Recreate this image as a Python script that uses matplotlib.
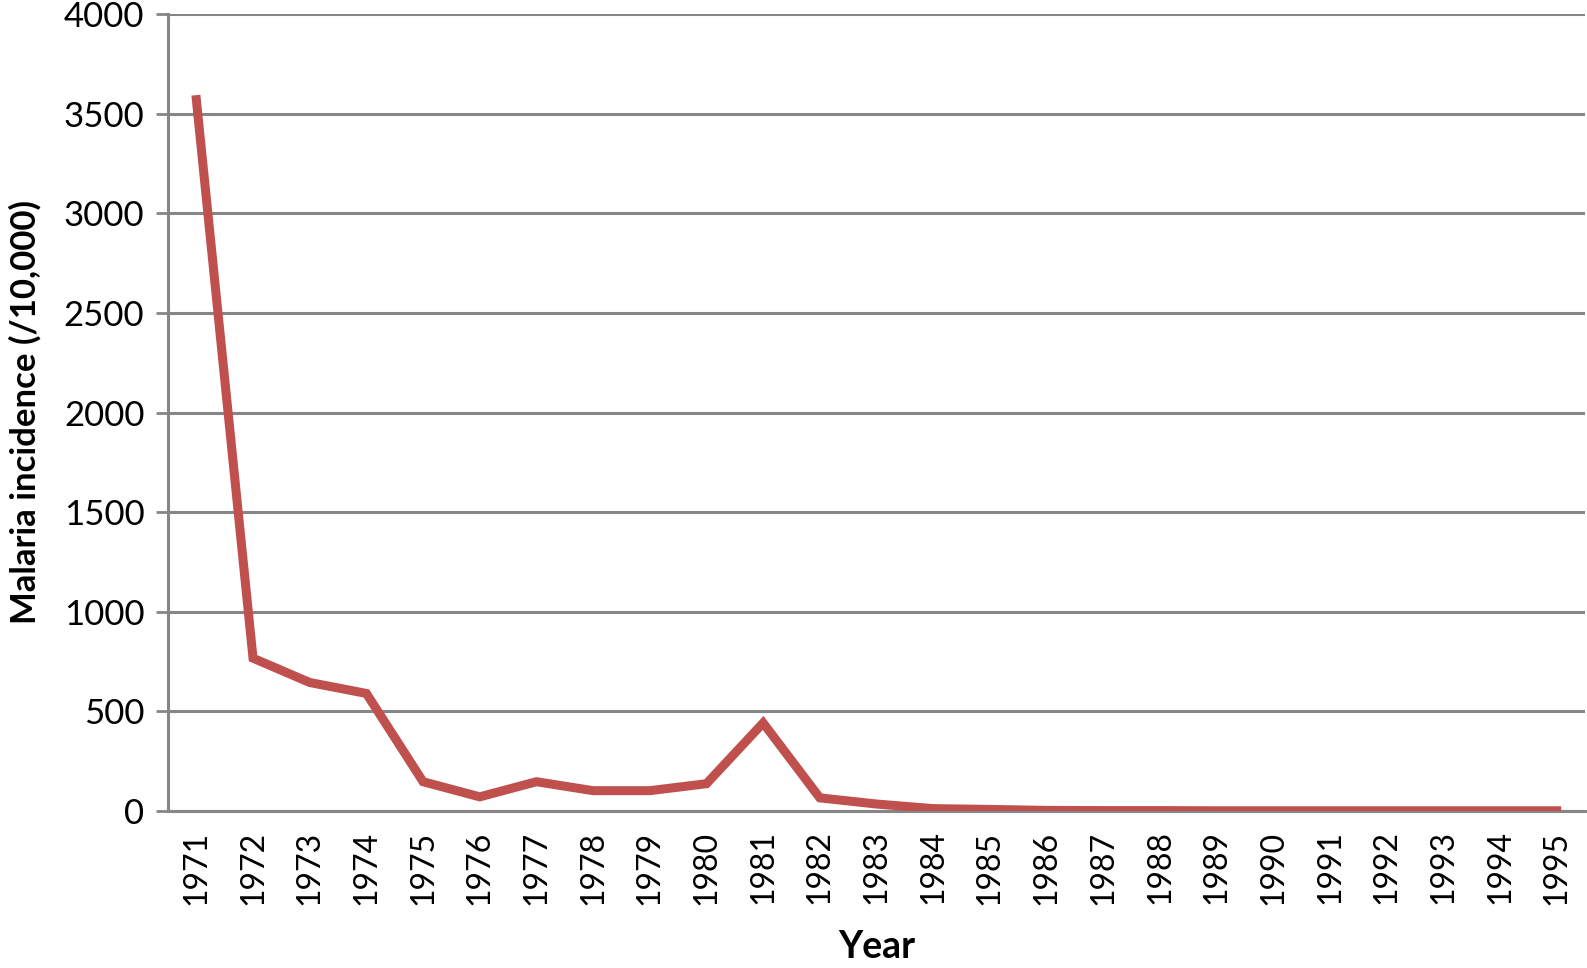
import matplotlib.pyplot as plt

plt.rcParams['font.family'] = ['Lato', 'DejaVu Sans']

years = [str(y) for y in range(1971, 1996)]
incidence = [3570, 767, 645, 590, 147, 71, 147, 102, 102, 137, 442, 66, 35, 12,
             8, 3, 2, 2, 1, 1, 1, 1, 1, 1, 1]

fig = plt.figure(figsize=(15.87, 9.68), dpi=100)
ax = fig.add_axes([168 / 1587, 1 - 811 / 968, 1417 / 1587, 797 / 968])

x = range(len(years))
ax.plot(x, incidence, color='#C0504D', linewidth=6.5, solid_joinstyle='miter', zorder=3)

ax.set_xlim(-0.5, len(years) - 0.5)
ax.set_ylim(0, 4000)
ax.set_yticks(range(0, 4001, 500))
ax.set_xticks(list(x))
ax.set_xticklabels(years, rotation=90, fontsize=23)
ax.tick_params(axis='y', labelsize=25, length=9, width=2, color='#868686', pad=8)
ax.tick_params(axis='x', length=0, pad=14)

ax.grid(axis='y', color='#868686', linewidth=2.2)
ax.set_axisbelow(True)
for s in ['top', 'right']:
    ax.spines[s].set_visible(False)
for s in ['left', 'bottom']:
    ax.spines[s].set_color('#868686')
    ax.spines[s].set_linewidth(2.2)

ax.set_xlabel('Year', fontsize=27, fontweight='bold', labelpad=18)
ax.set_ylabel('Malaria incidence (/10,000)', fontsize=25, fontweight='bold', labelpad=16)

fig.savefig('out.png', dpi=100)
